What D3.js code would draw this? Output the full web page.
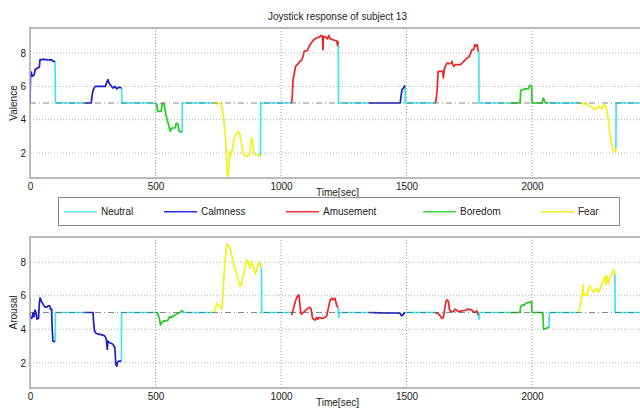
<!DOCTYPE html>
<html>
<head>
<meta charset="utf-8">
<script src="https://cdn.jsdelivr.net/npm/d3@7"></script>
<style>
html,body{margin:0;padding:0;background:#fff;}
svg{display:block;font-family:"Liberation Sans",Arial,sans-serif;}
</style>
</head>
<body>
<svg id="chart" width="640" height="412"></svg>
<script>
// ---------- DATA ----------
const categories = ["Neutral", "Calmness", "Amusement", "Boredom", "Fear"];
const xTicks = [0, 500, 1000, 1500, 2000];
const yTicks = [2, 4, 6, 8];
const xDomain = [0, 2450];
const yDomain = [0.5, 9.5];
const baseline = 5;

// Valence segments [time, value]
const valenceCalm1 = [[0,5],[2,6.5],[5,6.85],[9,6.6],[17,6.7],[20,7.0],[30,7.1],[37,7.15],[40,7.6],[60,7.62],[75,7.58],[85,7.6],[92,7.5],[100,7.5]];
const valenceCalm2 = [[218,5],[244,5],[248,5.5],[252,5.8],[260,6.0],[300,6.0],[305,6.2],[310,6.4],[315,6.2],[322,6.05],[330,5.9],[338,6.0],[345,5.85],[355,5.95],[365,5.9]];
const valenceBoredom1 = [[496,5],[505,4.9],[508,4.5],[522,4.5],[528,5.0],[535,4.9],[540,4.4],[548,3.9],[552,3.7],[558,3.3],[565,3.5],[578,3.5],[583,3.8],[590,3.7],[594,3.3],[606,3.25]];
const valenceFear1 = [[730,5],[745,4.95],[760,5],[766,4.7],[772,4.0],[778,3.0],[782,2.0],[786,0.7],[790,0.6],[793,1.5],[796,2.1],[799,1.8],[803,2.0],[808,2.4],[814,2.9],[820,3.1],[830,3.3],[836,3.1],[842,2.6],[848,2.1],[855,1.85],[865,1.8],[872,1.85],[878,2.3],[882,2.9],[886,2.7],[890,2.2],[895,1.9],[905,1.9],[918,1.8]];
const valenceAmuse1 = [[1042,5],[1045,5.5],[1048,6.4],[1052,6.7],[1058,7.2],[1068,7.35],[1075,7.5],[1082,7.55],[1088,7.8],[1092,8.1],[1105,8.15],[1112,8.4],[1120,8.6],[1128,8.75],[1140,8.9],[1152,8.95],[1160,9.05],[1165,9.0],[1167,8.2],[1169,9.0],[1178,8.95],[1185,8.85],[1190,9.05],[1196,8.85],[1205,8.8],[1215,8.75],[1222,8.75],[1225,8.45],[1228,8.7]];
const valenceCalm3 = [[1350,5],[1475,5],[1478,5.4],[1482,5.8],[1488,5.9],[1494,6.05]];
const valenceAmuse2 = [[1615,5],[1619,5.3],[1622,5.8],[1626,6.9],[1644,6.9],[1647,6.5],[1650,7.0],[1653,7.15],[1661,7.4],[1672,7.35],[1679,7.4],[1681,7.5],[1684,7.3],[1688,7.2],[1695,7.3],[1715,7.3],[1721,7.4],[1728,7.5],[1741,7.7],[1748,7.75],[1754,7.95],[1761,8.2],[1768,8.2],[1772,8.5],[1776,8.4],[1781,8.5],[1785,8.15],[1788,8.1]];
const valenceBoredom2 = [[1910,5],[1952,5],[1955,5.75],[1962,5.8],[1975,5.85],[1985,5.85],[1990,6.05],[1998,6.05],[2000,5],[2040,5],[2045,5.3],[2050,5.1],[2055,5],[2065,5]];
const valenceFear2 = [[2191,5],[2205,4.95],[2218,4.95],[2231,4.8],[2242,4.7],[2251,4.6],[2260,4.75],[2268,4.8],[2278,4.65],[2285,4.85],[2291,4.9],[2298,4.55],[2304,3.95],[2311,3.1],[2317,2.5],[2324,2.15],[2331,2.05],[2334,2.3]];
const valenceNeutralDips = [];

// Arousal segments [time, value]
const arousalCalm1 = [[0,5],[2,4.7],[5,4.65],[9,4.7],[12,5.0],[16,4.75],[20,5.15],[24,5.0],[28,4.6],[34,4.65],[37,5.5],[40,5.87],[46,5.65],[52,5.5],[58,5.35],[66,5.3],[72,5.4],[78,5.4],[82,5.2],[86,5.2],[88,4.2],[91,3.3],[100,3.25]];
const arousalCalm2 = [[218,5],[251,5],[253,4.5],[257,3.9],[264,3.75],[278,3.7],[291,3.65],[298,3.6],[304,3.4],[306,3.1],[308,2.8],[310,3.3],[317,3.2],[325,3.15],[331,3.1],[338,2.9],[342,1.9],[346,1.8],[348,2.0],[353,2.1],[364,2.1]];
const arousalBoredom1 = [[497,5],[505,5.0],[510,4.9],[516,4.6],[520,4.25],[525,4.4],[533,4.5],[543,4.5],[550,4.55],[556,4.75],[563,4.7],[576,4.85],[583,4.9],[596,5.0],[605,5.1],[612,5.05]];
const arousalFear1 = [[730,5],[737,5.1],[744,5.55],[752,5.45],[758,5.35],[764,5.2],[768,5.9],[772,7.0],[777,8.0],[781,8.75],[785,9.1],[790,9.0],[797,8.85],[803,8.45],[808,8.1],[813,7.8],[823,7.3],[830,6.9],[837,6.55],[843,6.7],[850,7.2],[857,7.7],[863,8.15],[870,7.95],[876,7.65],[883,8.05],[890,7.7],[897,7.3],[903,7.5],[908,7.8],[913,8.0],[918,7.85],[922,7.7]];
const arousalAmuse1 = [[1043,4.85],[1049,5.2],[1056,5.6],[1062,5.88],[1069,6.05],[1072,6.0],[1076,5.3],[1080,4.9],[1085,4.95],[1096,5.1],[1106,5.25],[1116,5.3],[1120,5.2],[1125,4.7],[1129,4.6],[1136,4.55],[1142,4.7],[1146,4.6],[1151,4.7],[1162,4.65],[1175,4.7],[1182,4.8],[1189,5.3],[1195,5.7],[1202,5.85],[1208,5.75],[1215,5.85],[1222,5.4],[1228,5.3]];
const arousalCalm3 = [[1348,5],[1400,4.98],[1460,4.97],[1475,4.95],[1480,4.8],[1485,4.85],[1490,4.95],[1495,5]];
const arousalAmuse2 = [[1614,5],[1627,4.93],[1634,4.8],[1640,4.65],[1647,4.72],[1653,5.3],[1658,5.7],[1662,5.75],[1667,5.65],[1671,5.2],[1676,5.05],[1687,5.05],[1693,5.2],[1707,5.05],[1720,5.1],[1733,5.12],[1746,5.2],[1760,5.15],[1766,5.05],[1773,5.0],[1780,5.1],[1786,4.85]];
const arousalBoredom2 = [[1910,5],[1952,5],[1955,5.35],[1962,5.45],[1970,5.45],[1975,5.55],[1990,5.6],[1998,5.65],[2000,5],[2043,5],[2046,4.0],[2055,4.05],[2062,4.1],[2068,4.1]];
const arousalFear2 = [[2185,5],[2191,5.35],[2197,5.8],[2203,6.65],[2206,6.0],[2211,6.1],[2218,6.0],[2224,6.35],[2231,6.6],[2237,6.4],[2244,6.2],[2251,6.3],[2257,6.45],[2264,6.2],[2271,6.4],[2277,6.65],[2284,6.85],[2290,7.15],[2294,6.7],[2298,7.2],[2303,6.7],[2310,7.1],[2317,7.3],[2324,7.55],[2330,7.3]];
const arousalNeutralDips = [[1230,4.7],[1789,4.6]];

// ---------- STYLE ----------
const colors = {Neutral:"#3ee6f0", Calmness:"#1c1cc8", Amusement:"#ec2424", Boredom:"#22cc22", Fear:"#f2f21c"};
const legendColors = {Neutral:"#66eeff", Calmness:"#3030ee", Amusement:"#f03030", Boredom:"#33dd33", Fear:"#eeee22"};

const valenceSegments = [
  ["Calmness", valenceCalm1], ["Calmness", valenceCalm2], ["Boredom", valenceBoredom1],
  ["Fear", valenceFear1], ["Amusement", valenceAmuse1], ["Calmness", valenceCalm3],
  ["Amusement", valenceAmuse2], ["Boredom", valenceBoredom2], ["Fear", valenceFear2]
];
const arousalSegments = [
  ["Calmness", arousalCalm1], ["Calmness", arousalCalm2], ["Boredom", arousalBoredom1],
  ["Fear", arousalFear1], ["Amusement", arousalAmuse1], ["Calmness", arousalCalm3],
  ["Amusement", arousalAmuse2], ["Boredom", arousalBoredom2], ["Fear", arousalFear2]
];

function neutralSegments(segs, dips) {
  const out = [];
  for (let i = 0; i < segs.length; i++) {
    const cur = segs[i][1];
    const end = cur[cur.length - 1];
    const nextT = i + 1 < segs.length ? segs[i + 1][1][0][0] : xDomain[1];
    const pts = [end];
    const inRange = dips.filter(d => d[0] > end[0] && d[0] < nextT);
    if (inRange.length) {
      inRange.forEach(d => { pts.push(d); pts.push([d[0] + 2, baseline]); });
    } else {
      pts.push([end[0] + 1, baseline]);
    }
    pts.push([nextT, baseline]);
    out.push(pts);
  }
  return out;
}

// ---------- DRAW ----------
const svg = d3.select("#chart");
const x = d3.scaleLinear().domain(xDomain).range([30, 645]);

svg.append("defs").selectAll("clipPath").data([["clipTop", 28, 178], ["clipBot", 237, 388]])
  .join("clipPath").attr("id", d => d[0])
  .append("rect").attr("x", 30).attr("y", d => d[1]).attr("width", 615).attr("height", d => d[2] - d[1]);

svg.append("text").attr("x", 337.5).attr("y", 20).attr("text-anchor", "middle")
  .attr("font-size", 10).attr("fill", "#222").text("Joystick response of subject 13");

function drawPanel(top, bottom, segs, dips, label, clipId) {
  const y = d3.scaleLinear().domain(yDomain).range([bottom, top]);
  const g = svg.append("g");
  // grid
  g.append("g").selectAll("line").data(xTicks.slice(1)).join("line")
    .attr("x1", d => x(d)).attr("x2", d => x(d)).attr("y1", top).attr("y2", bottom)
    .attr("stroke", "#9a9a9a").attr("stroke-width", 1).attr("stroke-dasharray", "1,2");
  g.append("g").selectAll("line").data(yTicks).join("line")
    .attr("x1", 30).attr("x2", 645).attr("y1", d => y(d)).attr("y2", d => y(d))
    .attr("stroke", "#b0b0b0").attr("stroke-width", 1).attr("stroke-dasharray", "1,2");

  const line = d3.line().x(d => x(d[0])).y(d => y(d[1]));
  const lines = g.append("g").attr("clip-path", `url(#${clipId})`);
  neutralSegments(segs, dips).forEach(pts => {
    lines.append("path").attr("d", line(pts)).attr("fill", "none")
      .attr("stroke", colors.Neutral).attr("stroke-width", 1.7).attr("stroke-linejoin", "round");
  });
  segs.forEach(([cat, pts]) => {
    lines.append("path").attr("d", line(pts)).attr("fill", "none")
      .attr("stroke", colors[cat]).attr("stroke-width", 1.7).attr("stroke-linejoin", "round");
  });
  // dash-dot baseline
  g.append("line").attr("x1", 30).attr("x2", 645).attr("y1", y(baseline)).attr("y2", y(baseline))
    .attr("stroke", "#555").attr("stroke-opacity", 0.7).attr("stroke-width", 1)
    .attr("stroke-dasharray", "6,3,1,3");

  // border
  g.append("rect").attr("x", 30).attr("y", top).attr("width", 615).attr("height", bottom - top)
    .attr("fill", "none").attr("stroke", "#a4a4a4").attr("stroke-width", 1.5);

  // axes
  const ax = g.append("g").attr("transform", `translate(0,${bottom})`)
    .call(d3.axisBottom(x).tickValues(xTicks).tickSize(0).tickPadding(5).tickFormat(d3.format("d")));
  const ay = g.append("g").attr("transform", `translate(30,0)`)
    .call(d3.axisLeft(y).tickValues(yTicks).tickSize(0).tickPadding(4).tickFormat(d3.format("d")));
  [ax, ay].forEach(a => {
    a.select(".domain").remove();
    a.selectAll("text").attr("font-size", 10).attr("fill", "#222")
      .attr("font-family", "'Liberation Sans',Arial,sans-serif");
  });

  g.append("text").attr("x", 337.5).attr("y", bottom + 18).attr("text-anchor", "middle")
    .attr("font-size", 10).attr("fill", "#222").text("Time[sec]");
  g.append("text").attr("transform", `translate(17,${(top + bottom) / 2}) rotate(-90)`)
    .attr("text-anchor", "middle").attr("font-size", 10).attr("fill", "#222").text(label);
}

drawPanel(28, 178, valenceSegments, valenceNeutralDips, "Valence", "clipTop");
drawPanel(237, 388, arousalSegments, arousalNeutralDips, "Arousal", "clipBot");

// legend
const lg = svg.append("g");
lg.append("rect").attr("x", 58.5).attr("y", 197.5).attr("width", 561).attr("height", 28)
  .attr("fill", "#fff").attr("stroke", "#8a8a8a").attr("stroke-width", 1);
const legendX = [64, 164, 286, 423, 541];
categories.forEach((c, i) => {
  lg.append("rect").attr("x", legendX[i]).attr("y", 211)
    .attr("width", 33).attr("height", 1.5).attr("fill", legendColors[c]);
  lg.append("text").attr("x", legendX[i] + 37).attr("y", 215).attr("font-size", 10)
    .attr("fill", "#222").text(c);
});
</script>
</body>
</html>
